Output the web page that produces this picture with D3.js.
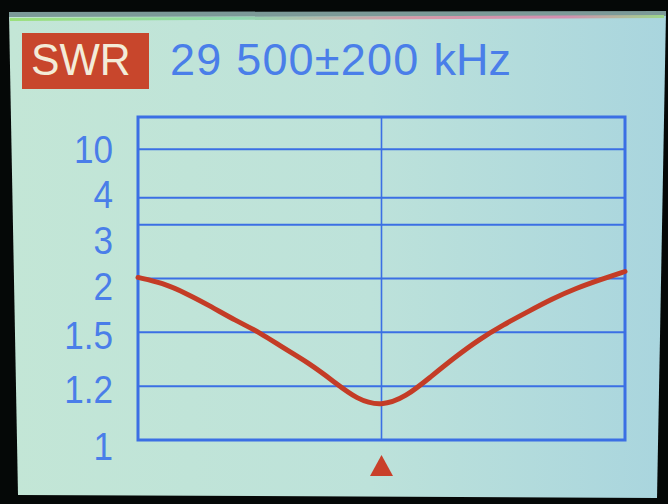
<!DOCTYPE html>
<html><head><meta charset="utf-8">
<script src="https://cdn.jsdelivr.net/npm/d3@7"></script>
<style>html,body{margin:0;padding:0;background:#050807;}svg{display:block;}</style>
</head><body>
<svg id="c" width="668" height="504"></svg>
<script>
// ---- data ----
const title = "SWR";
const rangeLabel = "29 500±200";
const unitLabel = "kHz";
const centerFreq = 29500;
const freqs = [29300,29320,29340,29360,29380,29400,29420,29440,29460,29480,29500,
               29520,29540,29560,29580,29600,29620,29640,29660,29680,29700];
const swr = [2.02,1.96,1.86,1.74,1.61,1.50,1.41,1.33,1.23,1.15,1.125,
             1.16,1.25,1.36,1.46,1.57,1.69,1.81,1.91,1.99,2.13];
const yTicks = [1,1.2,1.5,2,3,4,10];
const yTickLabels = ["1","1.2","1.5","2","3","4","10"];

// ---- layout ----
const svg = d3.select("#c");
const L = 138, R = 625, T = 117, B = 440;
const gridUnits = [0,1,2,3,4,4.5,5.4];     // display position of each tick (in grid steps)
const labelUnits = [-0.11,0.95,1.94,2.86,3.70,4.56,5.40];
const unit = (B - T) / 6;
const blue = "#3b6fe4", red = "#c43c26";

const defs = svg.append("defs");
const g1 = defs.append("linearGradient").attr("id","bg").attr("x1","0").attr("x2","1").attr("y1","0").attr("y2","0");
g1.append("stop").attr("offset","0").attr("stop-color","#c3e6d6");
g1.append("stop").attr("offset","0.55").attr("stop-color","#bde2da");
g1.append("stop").attr("offset","1").attr("stop-color","#a9d5de");
const g2 = defs.append("linearGradient").attr("id","strip").attr("x1","0").attr("x2","1");
g2.append("stop").attr("offset","0").attr("stop-color","#9be07a");
g2.append("stop").attr("offset","0.35").attr("stop-color","#8fd8b0");
g2.append("stop").attr("offset","0.6").attr("stop-color","#d79aa8");
g2.append("stop").attr("offset","0.85").attr("stop-color","#d38fb0");
g2.append("stop").attr("offset","1").attr("stop-color","#9bd88a");

// screen
svg.append("path").attr("d","M9,13 L666,12 L657,498 L18,495 Z").attr("fill","url(#bg)");
svg.append("path").attr("d","M9,12 L666,11 L666,16 L9,17 Z").attr("fill","#7c9a98");
svg.append("path").attr("d","M10,18 L664,15 L664,18 L10,21 Z").attr("fill","url(#strip)");

// scales
const x = d3.scaleLinear().domain([freqs[0], freqs[freqs.length-1]]).range([L, R]);
const y = d3.scaleLinear().domain(yTicks).range(gridUnits.map(u => B - u*unit));

// grid
svg.append("g").selectAll("line").data(yTicks.slice(1)).join("line")
  .attr("x1", L).attr("x2", R).attr("y1", d => y(d)).attr("y2", d => y(d))
  .attr("stroke", blue).attr("stroke-width", 2);
svg.append("line").attr("x1", x(centerFreq)).attr("x2", x(centerFreq))
  .attr("y1", T).attr("y2", B).attr("stroke", blue).attr("stroke-width", 1.6);
svg.append("rect").attr("x", L).attr("y", T).attr("width", R-L).attr("height", B-T)
  .attr("fill","none").attr("stroke", blue).attr("stroke-width", 3);

// y labels
svg.append("g").selectAll("text").data(yTickLabels).join("text")
  .attr("transform", (d,i) => `translate(113,${B - labelUnits[i]*unit}) scale(0.9,1)`)
  .attr("text-anchor","end").attr("dominant-baseline","central")
  .attr("font-family","'Liberation Sans', Arial, sans-serif").attr("font-size", 39)
  .attr("fill","#4a7ee9").text(d => d);

// curve
const line = d3.line().x((d,i) => x(freqs[i])).y(d => y(d)).curve(d3.curveBasis);
svg.append("path").datum(swr).attr("d", line).attr("fill","none")
  .attr("stroke", red).attr("stroke-width", 5).attr("stroke-linecap","round").attr("stroke-linejoin","round");

// center marker
const mx = x(centerFreq);
svg.append("path").attr("d", `M${mx},455 L${mx+11.5},476 L${mx-11.5},476 Z`).attr("fill", "#c9402a");

// header
svg.append("rect").attr("x",22).attr("y",33).attr("width",127).attr("height",56).attr("fill","#c8462c");
svg.append("text").attr("transform","translate(31,75) scale(0.95,1)")
  .attr("font-family","'Liberation Sans', Arial, sans-serif").attr("font-size",45)
  .attr("fill","#f3ecd8").text(title);
const ht = svg.append("text").attr("x",170).attr("y",75)
  .attr("font-family","'Liberation Sans', Arial, sans-serif").attr("font-size",45)
  .attr("fill","#4a7ee9");
ht.append("tspan").attr("letter-spacing",1.2).text(rangeLabel);
ht.append("tspan").attr("x",421).text(" " + unitLabel);
</script>
</body></html>
